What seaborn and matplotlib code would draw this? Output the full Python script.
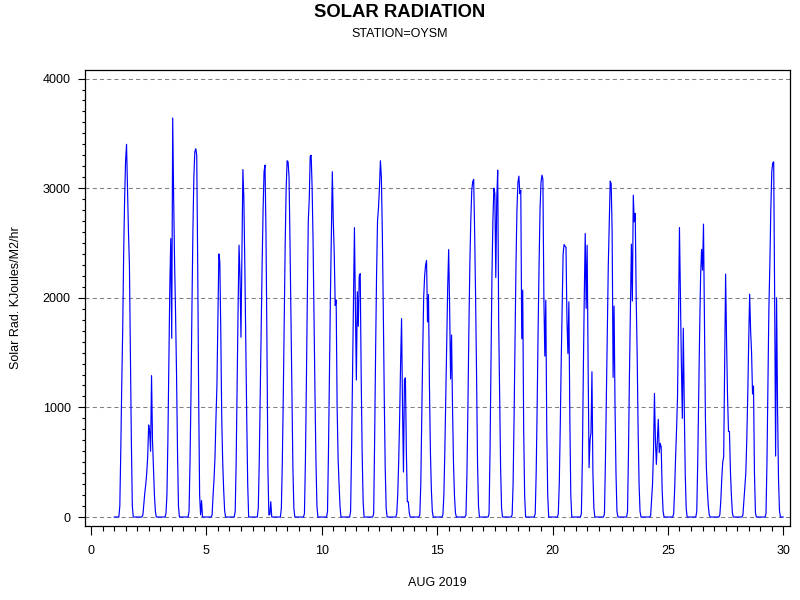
import numpy as np
import pandas as pd
import matplotlib
matplotlib.use("Agg")
import matplotlib.pyplot as plt
import seaborn as sns
from matplotlib.ticker import MultipleLocator

# hourly solar radiation (KJoules/M2/hr), hours 06..20 of each day, night = 0
FIRST_HOUR = 6
aug01 = [100, 600, 1200, 1700, 2400, 2900, 3250, 3400, 3000, 2600, 2300, 1500, 700, 100, 0]
aug02 = [20, 120, 220, 300, 400, 550, 840, 780, 600, 1290, 700, 450, 200, 50, 0]
aug03 = [30, 200, 700, 1400, 2100, 2540, 1630, 3640, 2900, 2300, 1850, 1300, 600, 100, 0]
aug04 = [50, 500, 1100, 1900, 2600, 3100, 3330, 3360, 3300, 2300, 1100, 200, 20, 150, 0]
aug05 = [20, 200, 350, 550, 900, 1200, 1800, 2400, 2330, 1700, 900, 500, 250, 60, 0]
aug06 = [50, 500, 1200, 1900, 2480, 2200, 1640, 2400, 3170, 2900, 2300, 1600, 900, 300, 0]
aug07 = [80, 500, 1100, 1700, 2300, 2800, 3150, 3210, 2600, 1600, 450, 20, 20, 140, 0]
aug08 = [80, 500, 1100, 1800, 2500, 3000, 3250, 3240, 3100, 2500, 1800, 1100, 450, 80, 0]
aug09 = [30, 500, 1200, 2000, 2700, 2900, 3290, 3300, 3000, 2500, 1800, 1100, 500, 100, 0]
aug10 = [50, 600, 1300, 2000, 2600, 3150, 2700, 2400, 1930, 1980, 1000, 540, 300, 100, 0]
aug11 = [50, 600, 1300, 2000, 2640, 1900, 1250, 2055, 1740, 2200, 2220, 1300, 600, 150, 0]
aug12 = [30, 700, 1500, 2200, 2700, 2820, 3000, 3250, 3100, 2600, 1900, 1100, 450, 80, 0]
aug13 = [30, 200, 500, 900, 1400, 1810, 1000, 410, 1255, 1270, 600, 140, 140, 40, 0]
aug14 = [20, 300, 900, 1500, 2000, 2200, 2300, 2340, 1780, 2030, 1200, 600, 250, 50, 0]
aug15 = [20, 200, 600, 1100, 1600, 2100, 2440, 1900, 1260, 1660, 1000, 500, 200, 40, 0]
aug16 = [20, 400, 1000, 1700, 2300, 2700, 2980, 3060, 3080, 2600, 2000, 1300, 500, 100, 0]
aug17 = [30, 600, 1400, 2200, 2700, 3000, 2950, 2185, 2900, 3164, 1781, 1100, 450, 80, 0]
aug18 = [20, 300, 900, 1600, 2300, 2800, 3050, 3110, 2950, 2980, 1626, 2070, 800, 200, 0]
aug19 = [30, 400, 1000, 1700, 2300, 2800, 3050, 3119, 3080, 2000, 1468, 1979, 800, 200, 0]
aug20 = [30, 300, 800, 1400, 1900, 2400, 2486, 2470, 2460, 1800, 1492, 1963, 900, 200, 0]
aug21 = [30, 500, 1300, 2000, 2587, 1903, 2480, 1400, 450, 700, 770, 1325, 400, 80, 0]
aug22 = [30, 500, 1100, 1700, 2300, 2700, 3064, 3040, 2600, 1274, 1924, 1000, 400, 50, 0]
aug23 = [50, 600, 1300, 1900, 2489, 1970, 2936, 2693, 2769, 2000, 1500, 800, 300, 50, 0]
aug24 = [10, 150, 300, 600, 1128, 700, 480, 700, 891, 587, 672, 640, 250, 50, 0]
aug25 = [30, 250, 550, 800, 1100, 1800, 2641, 2000, 1400, 900, 1723, 1000, 400, 80, 0]
aug26 = [50, 500, 1100, 1700, 2200, 2441, 2252, 2672, 1800, 900, 450, 250, 100, 20, 0]
aug27 = [20, 150, 350, 500, 550, 1400, 2216, 1600, 1100, 780, 780, 420, 200, 40, 0]
aug28 = [20, 150, 290, 400, 700, 1100, 1600, 2033, 1700, 1500, 1122, 1195, 400, 40, 0]
aug29 = [30, 500, 1200, 1900, 2300, 2800, 3150, 3231, 3240, 2000, 556, 2000, 1000, 350, 60]

days = [aug01, aug02, aug03, aug04, aug05, aug06, aug07, aug08, aug09, aug10,
        aug11, aug12, aug13, aug14, aug15, aug16, aug17, aug18, aug19, aug20,
        aug21, aug22, aug23, aug24, aug25, aug26, aug27, aug28, aug29]

# build hourly series: day number + hour/24
rows = []
for i, daylight in enumerate(days):
    d = i + 1
    for h in range(24):
        j = h - FIRST_HOUR
        val = daylight[j] if 0 <= j < len(daylight) else 0
        rows.append((d + h / 24.0, val))
rows.append((len(days) + 1.0, 0))
df = pd.DataFrame(rows, columns=["day", "solar"])

sns.set_style("ticks")
plt.rcParams.update({
    "font.family": ["Liberation Sans", "DejaVu Sans"],
    "lines.scale_dashes": False,
    "text.color": "black",
    "axes.labelcolor": "black",
    "xtick.color": "black",
    "ytick.color": "black",
})

fig = plt.figure(figsize=(8, 6), dpi=100)
ax = fig.add_axes([84.5 / 800, 1 - 526 / 600, (790 - 84.5) / 800, (526 - 70) / 600])

ax.yaxis.grid(True, which="major", linestyle=(0, (3.0, 2.2)), color="#808080", linewidth=0.75)
ax.set_axisbelow(True)

sns.lineplot(data=df, x="day", y="solar", color="#0000ff", linewidth=0.85, ax=ax)

ax.set_xlim(-0.28, 30.29)
ax.set_ylim(-82, 4078)
ax.xaxis.set_major_locator(MultipleLocator(5))
ax.xaxis.set_minor_locator(MultipleLocator(0.5))
ax.yaxis.set_major_locator(MultipleLocator(1000))
ax.yaxis.set_minor_locator(MultipleLocator(100))

for s in ax.spines.values():
    s.set_visible(True)
    s.set_color("black")
    s.set_linewidth(0.9)

ax.tick_params(axis="x", which="major", direction="out", length=6.5, width=0.8, pad=7, labelsize=9, colors="black")
ax.tick_params(axis="x", which="minor", direction="out", length=3.5, width=0.8, colors="black")
ax.tick_params(axis="y", which="major", direction="out", length=5, width=0.8, pad=5, labelsize=9, colors="black")
ax.tick_params(axis="y", which="minor", direction="out", length=2.5, width=0.8, colors="black")

ax.set_xlabel("AUG 2019", fontsize=9, color="black")
ax.xaxis.set_label_coords(0.5, -(585.5 - 526) / 456)
ax.xaxis.label.set_va("baseline")
ax.set_ylabel("Solar Rad. KJoules/M2/hr", fontsize=9, color="black")
ax.yaxis.set_label_coords(-(84.5 - 22.5) / 705.5, 0.5)

fig.text(0.5, 1 - 16.7 / 600, "SOLAR RADIATION", ha="center", va="baseline",
         fontsize=13.3, fontweight="bold", color="black")
fig.text(0.5, 1 - 36.7 / 600, "STATION=OYSM", ha="center", va="baseline",
         fontsize=9, color="black")

fig.savefig("out.png", dpi=100)
